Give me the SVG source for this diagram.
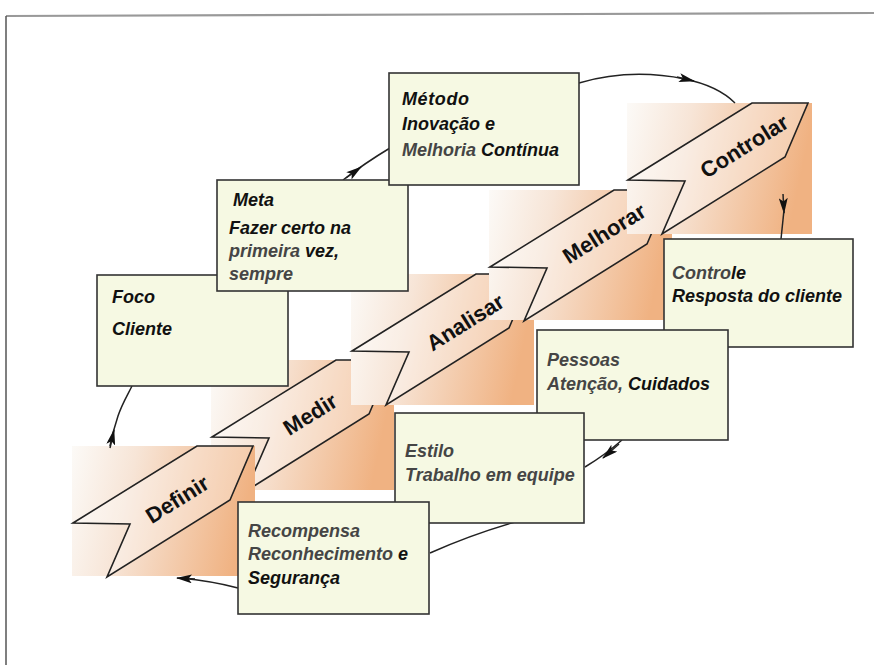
<svg xmlns="http://www.w3.org/2000/svg" width="874" height="665" viewBox="0 0 874 665">
  <defs>
    <linearGradient id="bgGrad" x1="0" y1="0" x2="1" y2="0.15">
      <stop offset="0" stop-color="#fcfaf7"/>
      <stop offset="0.35" stop-color="#f7e5d7"/>
      <stop offset="1" stop-color="#f0b282"/>
    </linearGradient>
    <marker id="ah" viewBox="0 0 16 9" refX="15" refY="4.5" markerWidth="16" markerHeight="9" markerUnits="userSpaceOnUse" orient="auto">
      <path d="M0,0 L16,4.5 L0,9 L3.5,4.5 z" fill="#111"/>
    </marker>
  </defs>
  <style>
    .frame{fill:none;stroke:#555;stroke-width:1.5}
    .frameTop{fill:none;stroke:#999;stroke-width:2.2}
    .bg{fill:url(#bgGrad)}
    .chev{fill:#fff;fill-opacity:.32;stroke:#222;stroke-width:1.6;stroke-linejoin:miter}
    .ctext{font-family:"Liberation Sans",Arial,sans-serif;font-weight:bold;font-size:22px;fill:#111;text-anchor:middle}
    .box{fill:#f6f9e3;stroke:#333;stroke-width:1.6}
    .t{font-family:"Liberation Sans",Arial,sans-serif;font-style:italic;font-weight:bold;font-size:18px;fill:#111}
    .g{fill:#454545}
    .conn{fill:none;stroke:#222;stroke-width:1.5}
    .tip{fill:none;stroke:#222;stroke-width:1.5;marker-end:url(#ah)}
  </style>

  <!-- page frame -->
  <g id="frame">
    <path class="frameTop" d="M6,16 L874,13"/>
    <path class="frame" d="M6,16 L6,665"/>
  </g>

  <!-- process chevrons with their shaded backdrops -->
  <g id="medir">
    <rect class="bg" x="211" y="360" width="183" height="130"/>
    <polygon class="chev" points="212,437 336,360 392,360 369,414 246,491 269,438"/>
  </g>
  <g id="definir">
    <rect class="bg" x="72" y="446" width="183" height="130"/>
    <polygon class="chev" points="73,523 197,446 253,446 230,500 107,577 130,524"/>
  </g>
  <g id="analisar">
    <rect class="bg" x="351" y="274" width="183" height="131"/>
    <polygon class="chev" points="352,351 476,274 532,274 509,328 386,405 409,352"/>
  </g>
  <g id="melhorar">
    <rect class="bg" x="489" y="190" width="183" height="130"/>
    <polygon class="chev" points="490,267 614,190 670,190 647,244 524,321 547,268"/>
  </g>
  <g id="controlar">
    <rect class="bg" x="627" y="103" width="185" height="131"/>
    <polygon class="chev" points="628,180 752,103 808,103 785,157 662,234 685,181"/>
  </g>

  <!-- chevron labels sit above every backdrop -->
  <g id="chevron-labels">
    <text class="ctext" transform="translate(177,499) rotate(-32)" y="8">Definir</text>
    <text class="ctext" transform="translate(310,414) rotate(-32)" y="8">Medir</text>
    <text class="ctext" transform="translate(465,322) rotate(-32)" y="8">Analisar</text>
    <text class="ctext" transform="translate(604,233) rotate(-32)" y="8">Melhorar</text>
    <text class="ctext" transform="translate(744,146) rotate(-32)" y="8">Controlar</text>
  </g>

  <!-- cycle connectors -->
  <g id="connectors">
    <path class="conn" d="M110,446 C112,436 114,428 118,416 S127,396 132,386"/>
    <path class="tip" d="M110,448 L114,430"/>
    <path class="conn" d="M343,180 Q365,163 390,148"/>
    <path class="tip" d="M346,178 L361,167"/>
    <path class="conn" d="M579,83 Q630,68 685,79 Q718,86 735,103"/>
    <path class="tip" d="M677,77 L694,81"/>
    <path class="tip" d="M783,194 L784,213"/>
    <path class="conn" d="M784,210 L781,239"/>
    <path class="conn" d="M622,440 Q605,455 585,467"/>
    <path class="tip" d="M619,444 L603,458"/>
    <path class="conn" d="M515,522 Q470,535 430,553"/>
    <path class="conn" d="M238,588 Q212,581 180,578"/>
    <path class="tip" d="M195,579 L177,578"/>
  </g>

  <!-- text boxes -->
  <g id="foco">
    <rect class="box" x="97" y="275" width="191" height="111"/>
    <text class="t" x="112" y="303">Foco</text>
    <text class="t" x="112" y="335">Cliente</text>
  </g>
  <g id="meta">
    <rect class="box" x="217" y="180" width="191" height="111"/>
    <text class="t" x="233" y="206">Meta</text>
    <text class="t" x="229" y="234">Fazer certo na</text>
    <text class="t" x="229" y="257"><tspan class="g">primeira</tspan> vez,</text>
    <text class="t g" x="229" y="280">sempre</text>
  </g>
  <g id="metodo">
    <rect class="box" x="389" y="73" width="190" height="112"/>
    <text class="t" x="402" y="105" letter-spacing="0.6">Método</text>
    <text class="t" x="402" y="130">Inovação e</text>
    <text class="t" x="402" y="156"><tspan class="g">Melhoria</tspan> Contínua</text>
  </g>
  <g id="controle">
    <rect class="box" x="664" y="239" width="189" height="108"/>
    <text class="t" x="672" y="279"><tspan class="g">Contro</tspan>le</text>
    <text class="t" x="672" y="302">Resposta do cliente</text>
  </g>
  <g id="pessoas">
    <rect class="box" x="537" y="330" width="191" height="110"/>
    <text class="t g" x="547" y="366">Pessoas</text>
    <text class="t" x="547" y="390"><tspan class="g">Atenção,</tspan> Cuidados</text>
  </g>
  <g id="estilo">
    <rect class="box" x="395" y="413" width="189" height="110"/>
    <text class="t g" x="405" y="457">Estilo</text>
    <text class="t g" x="405" y="481">Trabalho em equipe</text>
  </g>
  <g id="recompensa">
    <rect class="box" x="238" y="502" width="191" height="112"/>
    <text class="t g" x="248" y="537">Recompensa</text>
    <text class="t" x="248" y="560"><tspan class="g">Reconhecimento</tspan> e</text>
    <text class="t" x="248" y="584">Segurança</text>
  </g>
</svg>
